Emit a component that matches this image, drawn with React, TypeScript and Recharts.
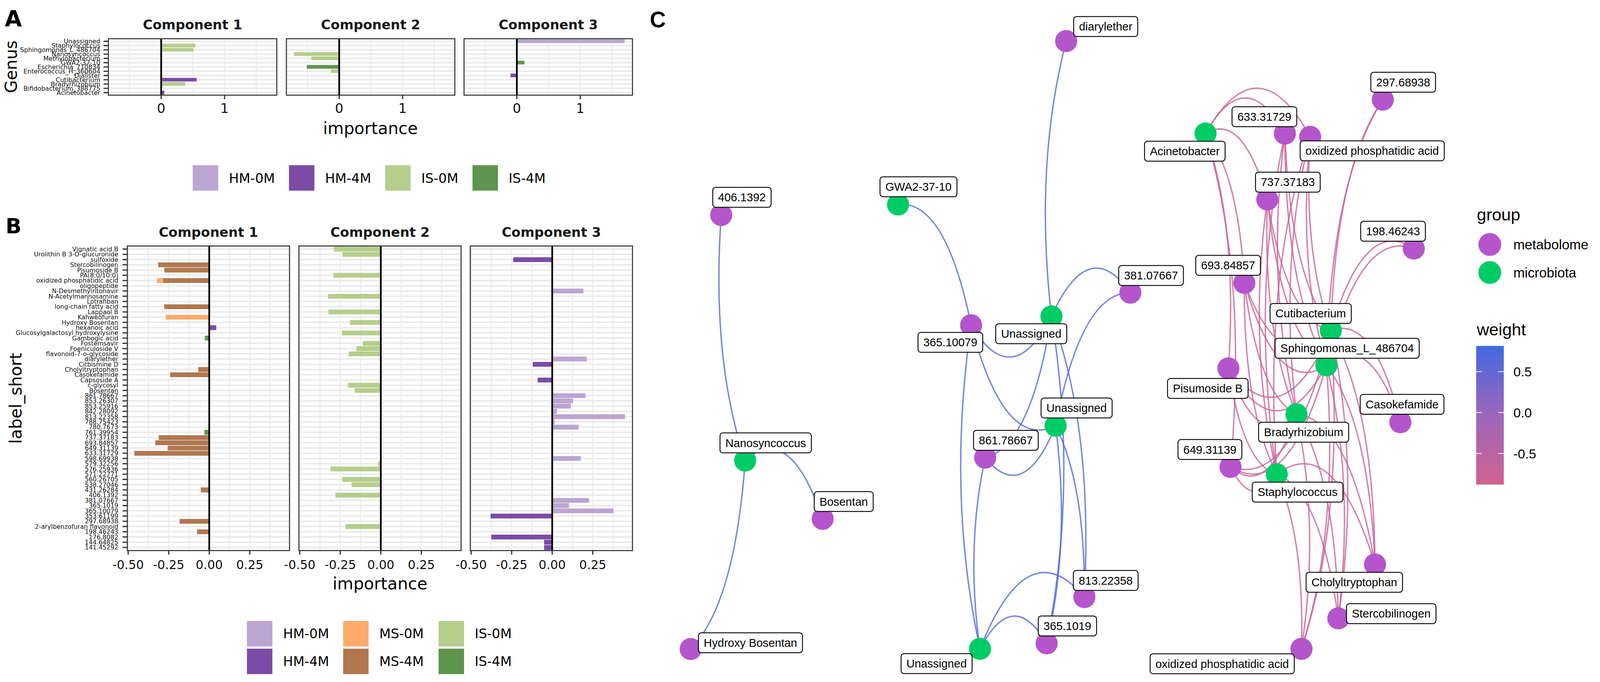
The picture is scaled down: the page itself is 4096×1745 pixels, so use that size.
import React from 'react';
import { BarChart, Bar, XAxis, YAxis, CartesianGrid, ReferenceLine, ScatterChart, Scatter } from 'recharts';

const S = 4096 / 4341;
const FONT = '"DejaVu Sans", Verdana, sans-serif';
const FONT_C = '"Liberation Sans", Arial, Helvetica, sans-serif';

// ---------------- data ----------------
const groups = ['HM-0M', 'HM-4M', 'MS-4M', 'MS-0M', 'IS-0M', 'IS-4M'];
const groupColors: Record<string, string> = {
  'HM-0M': '#BBA5D3', 'HM-4M': '#7B4BA7', 'MS-0M': '#FDAA6B',
  'MS-4M': '#B0784F', 'IS-0M': '#B5CE8B', 'IS-4M': '#5E944B',
};
const legendAOrder = ['HM-0M', 'HM-4M', 'IS-0M', 'IS-4M'];
const legendBOrder = [['HM-0M', 'HM-4M'], ['MS-0M', 'MS-4M'], ['IS-0M', 'IS-4M']];
const componentTitles = ['Component 1', 'Component 2', 'Component 3'];

const genera = [
  'Unassigned', 'Staphylococcus', 'Sphingomonas_L_486704', 'Nanosyncoccus', 'Methylobacterium',
  'GWA2-37-10', 'Escherichia_710834', 'Enterococcus_H_360604', 'Dialister', 'Cutibacterium',
  'Bradyrhizobium', 'Bifidobacterium_388775', 'Acinetobacter',
];
const genusComp1: [string, string, number][] = [
  ['Staphylococcus', 'IS-0M', 0.54], ['Sphingomonas_L_486704', 'IS-0M', 0.51],
  ['Cutibacterium', 'HM-4M', 0.56], ['Bradyrhizobium', 'IS-0M', 0.38], ['Acinetobacter', 'HM-4M', 0.05],
];
const genusComp2: [string, string, number][] = [
  ['Nanosyncoccus', 'IS-0M', -0.71], ['Methylobacterium', 'IS-0M', -0.44],
  ['Escherichia_710834', 'IS-4M', -0.51], ['Enterococcus_H_360604', 'IS-0M', -0.13],
];
const genusComp3: [string, string, number][] = [
  ['Unassigned', 'HM-0M', 1.70], ['GWA2-37-10', 'IS-4M', 0.12], ['Dialister', 'HM-4M', -0.10],
];

const metabolites = [
  'Vignatic acid B', 'Urolithin B 3-O-glucuronide', 'sulfoxide', 'Stercobilinogen', 'Pisumoside B',
  'PA(8:0/10:0)', 'oxidized phosphatidic acid', 'oligopeptide', 'N-Desmethylritonavir', 'N-Acetylmannosamine',
  'Lotrafiban', 'long-chain fatty acid', 'Lappaol B', 'Kahweofuran', 'Hydroxy Bosentan', 'hexanoic acid',
  'Glucosylgalactosyl hydroxylysine', 'Gambogic acid', 'Fostemsavir', 'Foeniculoside V',
  'flavonoid-7-o-glycoside', 'diarylether', 'Citbismine D', 'Cholyltryptophan', 'Casokefamide',
  'Capsoside A', 'c-glycosyl', 'Bosentan', '861.78667', '853.26307', '853.25916', '842.28092',
  '813.22358', '788.75423', '780.7673', '761.39954', '737.37183', '693.84857', '649.31139',
  '633.31729', '598.69938', '579.32256', '576.25936', '571.22771', '560.26705', '538.27046',
  '431.26284', '406.1392', '381.07667', '365.1019', '365.10079', '353.61199', '297.68938',
  '2-arylbenzofuran flavonoid', '198.46243', '176.8082', '144.64825', '141.45292',
];
const metabComp1: [string, string, number][] = [
  ['Stercobilinogen', 'MS-4M', -0.315], ['Pisumoside B', 'MS-4M', -0.277],
  ['oxidized phosphatidic acid', 'MS-4M', -0.284], ['oxidized phosphatidic acid', 'MS-0M', -0.038],
  ['Lotrafiban', 'MS-0M', -0.006], ['long-chain fatty acid', 'MS-4M', -0.278],
  ['Kahweofuran', 'MS-0M', -0.268], ['hexanoic acid', 'HM-4M', 0.043], ['Gambogic acid', 'IS-4M', -0.027],
  ['Cholyltryptophan', 'MS-4M', -0.068], ['Casokefamide', 'MS-4M', -0.241], ['761.39954', 'IS-4M', -0.030],
  ['737.37183', 'MS-4M', -0.311], ['693.84857', 'MS-4M', -0.333], ['649.31139', 'MS-4M', -0.256],
  ['633.31729', 'MS-4M', -0.462], ['431.26284', 'MS-4M', -0.052], ['297.68938', 'MS-4M', -0.183],
  ['198.46243', 'MS-4M', -0.075],
];
const metabComp2: [string, string, number][] = [
  ['Vignatic acid B', 'IS-0M', -0.29], ['Urolithin B 3-O-glucuronide', 'IS-0M', -0.236],
  ['PA(8:0/10:0)', 'IS-0M', -0.293], ['N-Acetylmannosamine', 'IS-0M', -0.325], ['Lappaol B', 'IS-0M', -0.323],
  ['Hydroxy Bosentan', 'IS-0M', -0.19], ['Glucosylgalactosyl hydroxylysine', 'IS-0M', -0.24],
  ['Fostemsavir', 'IS-0M', -0.111], ['Foeniculoside V', 'IS-0M', -0.15],
  ['flavonoid-7-o-glycoside', 'IS-0M', -0.198], ['c-glycosyl', 'IS-0M', -0.203], ['Bosentan', 'IS-0M', -0.161],
  ['579.32256', 'IS-0M', -0.016], ['576.25936', 'IS-0M', -0.31], ['560.26705', 'IS-0M', -0.239],
  ['538.27046', 'IS-0M', -0.18], ['406.1392', 'IS-0M', -0.28], ['2-arylbenzofuran flavonoid', 'IS-0M', -0.218],
];
const metabComp3: [string, string, number][] = [
  ['sulfoxide', 'HM-4M', -0.24], ['N-Desmethylritonavir', 'HM-0M', 0.192], ['diarylether', 'HM-0M', 0.213],
  ['Citbismine D', 'HM-4M', -0.12], ['Capsoside A', 'HM-4M', -0.09], ['861.78667', 'HM-0M', 0.206],
  ['853.26307', 'HM-0M', 0.129], ['853.25916', 'HM-0M', 0.115], ['842.28092', 'HM-0M', 0.029],
  ['813.22358', 'HM-0M', 0.449], ['788.75423', 'HM-0M', 0.015], ['780.7673', 'HM-0M', 0.163],
  ['598.69938', 'HM-0M', 0.177], ['381.07667', 'HM-0M', 0.227], ['365.1019', 'HM-0M', 0.104],
  ['365.10079', 'HM-0M', 0.378], ['353.61199', 'HM-4M', -0.38], ['176.8082', 'HM-4M', -0.376],
  ['144.64825', 'HM-4M', -0.05], ['141.45292', 'HM-4M', -0.05],
];

const genusTicks = [-0.5, 0, 0.5, 1, 1.5];
const genusMajor = [0, 1];
const metabTicks = [-0.5, -0.375, -0.25, -0.125, 0, 0.125, 0.25, 0.375];
const metabMajor = [-0.5, -0.25, 0, 0.25];

// network: id, label, group, x, y, labelX, labelY (layout units)
const networkNodes: [string, string, string, number, number, number, number][] = [
  ['m406', '406.1392', 'metabolome', 0.746, 6.285, 1.014, 6.525],
  ['nano', 'Nanosyncoccus', 'microbiota', 1.056, 2.956, 1.321, 3.195],
  ['bos', 'Bosentan', 'metabolome', 2.057, 2.165, 2.329, 2.400],
  ['hbos', 'Hydroxy Bosentan', 'metabolome', 0.352, 0.400, 1.124, 0.485],
  ['gwa', 'GWA2-37-10', 'microbiota', 3.031, 6.427, 3.295, 6.668],
  ['diaryl', 'diarylether', 'metabolome', 5.203, 8.643, 5.714, 8.840],
  ['m365a', '365.10079', 'metabolome', 3.975, 4.790, 3.707, 4.558],
  ['u1', 'Unassigned', 'microbiota', 5.013, 4.910, 4.752, 4.675],
  ['m381', '381.07667', 'metabolome', 6.032, 5.232, 6.300, 5.465],
  ['u2', 'Unassigned', 'microbiota', 5.067, 3.427, 5.338, 3.668],
  ['m861', '861.78667', 'metabolome', 4.157, 2.995, 4.424, 3.230],
  ['m813', '813.22358', 'metabolome', 5.438, 1.105, 5.714, 1.330],
  ['m365b', '365.1019', 'metabolome', 4.951, 0.477, 5.219, 0.713],
  ['u3', 'Unassigned', 'microbiota', 4.090, 0.403, 3.529, 0.203],
  ['acin', 'Acinetobacter', 'microbiota', 7.004, 7.390, 6.736, 7.150],
  ['m633', '633.31729', 'metabolome', 8.029, 7.388, 7.764, 7.618],
  ['oxT', 'oxidized phosphatidic acid', 'metabolome', 8.355, 7.345, 9.157, 7.155],
  ['m297', '297.68938', 'metabolome', 9.294, 7.850, 9.557, 8.085],
  ['m737', '737.37183', 'metabolome', 7.802, 6.495, 8.067, 6.730],
  ['m198', '198.46243', 'metabolome', 9.694, 5.830, 9.426, 6.065],
  ['m693', '693.84857', 'metabolome', 7.505, 5.365, 7.295, 5.603],
  ['cuti', 'Cutibacterium', 'microbiota', 8.622, 4.720, 8.362, 4.950],
  ['sphi', 'Sphingomonas_L_486704', 'microbiota', 8.565, 4.247, 8.833, 4.478],
  ['pisu', 'Pisumoside B', 'metabolome', 7.299, 4.205, 7.033, 3.933],
  ['caso', 'Casokefamide', 'metabolome', 9.521, 3.475, 9.543, 3.718],
  ['brad', 'Bradyrhizobium', 'microbiota', 8.179, 3.583, 8.271, 3.340],
  ['m649', '649.31139', 'metabolome', 7.326, 2.870, 7.060, 3.105],
  ['stap', 'Staphylococcus', 'microbiota', 7.924, 2.770, 8.193, 2.528],
  ['chol', 'Cholyltryptophan', 'metabolome', 9.193, 1.547, 8.926, 1.305],
  ['ster', 'Stercobilinogen', 'metabolome', 8.719, 0.816, 9.403, 0.880],
  ['oxB', 'oxidized phosphatidic acid', 'metabolome', 8.243, 0.402, 7.219, 0.200],
];

// edges: from (microbe), to (metabolite), weight
const positiveEdges: [string, string, number][] = [
  ['nano', 'm406', 0.62], ['nano', 'bos', 0.66], ['nano', 'hbos', 0.64], ['gwa', 'm365a', 0.65],
  ['u1', 'diaryl', 0.63], ['u1', 'm381', 0.66], ['u2', 'm381', 0.62], ['u1', 'm365a', 0.64],
  ['u2', 'm365a', 0.66], ['u3', 'm365a', 0.63], ['u1', 'm861', 0.65], ['u2', 'm861', 0.64],
  ['u3', 'm861', 0.66], ['u3', 'm813', 0.65], ['u3', 'm365b', 0.64], ['u2', 'm365b', 0.70],
  ['u1', 'm365b', 0.66], ['u1', 'm813', 0.63], ['u2', 'm813', 0.65],
];
const negativeEdges: [string, string, number][] = [
  ['acin', 'm633', -0.72], ['acin', 'oxT', -0.74], ['acin', 'm737', -0.70], ['acin', 'm693', -0.71],
  ['acin', 'pisu', -0.73], ['acin', 'm649', -0.70],
  ['cuti', 'm633', -0.72], ['sphi', 'm633', -0.74], ['brad', 'm633', -0.70], ['stap', 'm633', -0.73],
  ['cuti', 'oxT', -0.71], ['sphi', 'oxT', -0.73], ['brad', 'oxT', -0.72], ['stap', 'oxT', -0.70],
  ['cuti', 'm737', -0.72], ['sphi', 'm737', -0.71], ['brad', 'm737', -0.74], ['stap', 'm737', -0.72],
  ['cuti', 'm693', -0.73], ['sphi', 'm693', -0.72], ['brad', 'm693', -0.70], ['stap', 'm693', -0.74],
  ['cuti', 'pisu', -0.72], ['sphi', 'pisu', -0.70], ['brad', 'pisu', -0.73], ['stap', 'pisu', -0.71],
  ['cuti', 'm649', -0.74], ['sphi', 'm649', -0.72], ['brad', 'm649', -0.71], ['stap', 'm649', -0.73],
  ['cuti', 'chol', -0.70], ['sphi', 'chol', -0.72], ['brad', 'chol', -0.73], ['stap', 'chol', -0.71],
  ['cuti', 'ster', -0.72], ['sphi', 'ster', -0.74], ['brad', 'ster', -0.70], ['stap', 'ster', -0.72],
  ['cuti', 'oxB', -0.71], ['sphi', 'oxB', -0.73], ['brad', 'oxB', -0.72], ['stap', 'oxB', -0.74],
  ['cuti', 'm297', -0.73], ['sphi', 'm297', -0.71], ['cuti', 'm198', -0.72], ['sphi', 'm198', -0.70],
  ['cuti', 'caso', -0.71], ['sphi', 'caso', -0.73],
];

const nodeColors: Record<string, string> = { metabolome: '#B455CC', microbiota: '#00CC66' };
const weightTicks = [0.5, 0.0, -0.5];
const weightRange = [-0.88, 0.814];

// ---------------- helpers ----------------
function buildRows(labels: string[], entries: [string, string, number][]) {
  return labels.map((l) => {
    const row: any = { label: l };
    entries.forEach(([name, g, v]) => {
      if (name === l) row[g] = (row[g] ?? 0) + v;
    });
    return row;
  });
}

const HIGH = [65, 105, 225];
const MID = [154, 102, 189];
const LOW = [209, 98, 142];
function weightColor(w: number) {
  let c: number[];
  if (w >= 0) {
    const t = Math.min(1, w / weightRange[1]);
    c = MID.map((m, i) => m + (HIGH[i] - m) * t);
  } else {
    const t = Math.min(1, -w / -weightRange[0]);
    c = MID.map((m, i) => m + (LOW[i] - m) * t);
  }
  return `rgb(${c.map((v) => Math.round(v)).join(',')})`;
}

let measureCtx: CanvasRenderingContext2D | null = null;
function textWidth(t: string, font: string) {
  if (!measureCtx && typeof document !== 'undefined') {
    const c = document.createElement('canvas');
    measureCtx = c.getContext('2d');
  }
  if (!measureCtx) return t.length * 17;
  measureCtx.font = font;
  return measureCtx.measureText(t).width;
}

// arc in an aspect-corrected space (layout was stretched vertically)
const ASPECT = 3.16;
const BEND = 0.142;
function arcPath(p0: { x: number; y: number }, p1: { x: number; y: number }) {
  const dx = p1.x - p0.x;
  const dyIso = (p1.y - p0.y) / ASPECT;
  const mx = (p0.x + p1.x) / 2;
  const my = (p0.y + p1.y) / 2;
  const cx = mx + 2 * BEND * dyIso;
  const cy = my - 2 * BEND * dx * ASPECT;
  return `M${p0.x},${p0.y} Q${cx},${cy} ${p1.x},${p1.y}`;
}

// ---------------- facet bar chart ----------------
type FacetCfg = {
  left: number; top: number; w: number; h: number; yAxisW: number; labelGap: number;
  domain: [number, number]; ticks: number[]; majors: number[]; fmt: (v: number) => string;
  tickFont: number; tickBase: number; labelFont: number;
};

function Facet({ cfg, rows, showY }: { cfg: FacetCfg; rows: any[]; showY: boolean }) {
  const { left, top, w, h, yAxisW, labelGap, domain, ticks, majors, fmt, tickFont, tickBase, labelFont } = cfg;
  const yW = showY ? yAxisW : 0;
  const M = 70;
  const T = 24;
  const N = rows.length;
  const band = h / (N + 0.2);
  const pad = band * 0.1;
  const xH = 75;
  const hPoints = rows.map((_, i) => T + pad + (i + 0.5) * band);

  const XTick = (props: any) => {
    const { x, payload } = props;
    const v = payload.value;
    if (!majors.some((m) => Math.abs(m - v) < 1e-9)) return <g />;
    return (
      <g>
        <line x1={x} x2={x} y1={T + h} y2={T + h + 11} stroke="#333" strokeWidth={3.3} />
        <text x={x} y={T + h + tickBase} textAnchor="middle" fontSize={tickFont} fontFamily={FONT} fill="#111">
          {fmt(v)}
        </text>
      </g>
    );
  };
  const YTick = (props: any) => {
    const { payload } = props;
    const y = typeof props.index === 'number' ? T + pad + (props.index + 0.5) * band : props.y;
    const px = M + yW;
    return (
      <g>
        <line x1={px - 13} x2={px - 1} y1={y} y2={y} stroke="#333" strokeWidth={3.3} />
        <text x={px - labelGap} y={y} dy="0.36em" textAnchor="end" fontSize={labelFont} fontFamily={FONT} fill="#111">
          {payload.value}
        </text>
      </g>
    );
  };

  return (
    <div style={{ position: 'absolute', left: left - yW - M, top: top - T }}>
      <BarChart
        width={M + yW + w + M}
        height={T + h + xH}
        data={rows}
        layout="vertical"
        margin={{ top: T, right: M, bottom: 0, left: M }}
        stackOffset="sign"
        barCategoryGap="5%"
      >
        <CartesianGrid horizontal={false} stroke="#EBEBEB" strokeWidth={2.6} />
        <CartesianGrid vertical={false} stroke="#EBEBEB" strokeWidth={4.5} horizontalPoints={hPoints} />
        <XAxis
          type="number" domain={domain} ticks={ticks} allowDataOverflow interval={0}
          tick={XTick} tickLine={false} axisLine={false} height={xH}
        />
        <YAxis
          type="category" dataKey="label" width={yW} hide={!showY} interval={0}
          tick={YTick} tickLine={false} axisLine={false} padding={{ top: pad, bottom: pad }}
        />
        {groups.map((g) => (
          <Bar key={g} dataKey={g} stackId="s" fill={groupColors[g]} isAnimationActive={false} />
        ))}
        <ReferenceLine x={0} stroke="#000" strokeWidth={4.6} />
      </BarChart>
    </div>
  );
}

// ---------------- network ----------------
function Network() {
  const nodeMap: Record<string, any> = {};
  const nodes = networkNodes.map(([id, name, group, x, y, lx, ly]) => {
    const n = { id, name, group, x, y, lx, ly };
    nodeMap[id] = n;
    return n;
  });
  const labels = nodes.map((n) => ({ x: n.lx, y: n.ly, name: n.name }));
  const edges = [...positiveEdges, ...negativeEdges].map(([a, b, w]) => ({
    data: [{ x: nodeMap[a].x, y: nodeMap[a].y }, { x: nodeMap[b].x, y: nodeMap[b].y }],
    color: weightColor(w),
  }));
  const Empty = () => <g />;
  const edgeLine = (color: string) => (props: any) => {
    const pts = props.points;
    if (!pts || pts.length < 2) return <g />;
    return <path d={arcPath(pts[0], pts[1])} fill="none" stroke={color} strokeWidth={3.8} strokeOpacity={0.8} />;
  };
  const NodeShape = (props: any) => (
    <circle cx={props.cx} cy={props.cy} r={30} fill={nodeColors[props.payload.group]} />
  );
  const LabelShape = (props: any) => {
    const { cx, cy, payload } = props;
    const tw = textWidth(payload.name, `31px ${FONT_C}`);
    const bw = tw + 29;
    const bh = 54;
    return (
      <g>
        <rect x={cx - bw / 2} y={cy - bh / 2} width={bw} height={bh} rx={8} ry={8} fill="#fff" stroke="#000" strokeWidth={2.4} />
        <text x={cx} y={cy + 11} textAnchor="middle" fontSize={31} fontFamily={FONT_C} fill="#000">
          {payload.name}
        </text>
      </g>
    );
  };
  return (
    <div style={{ position: 'absolute', left: 1695, top: 20 }}>
      <ScatterChart width={2310} height={1860} margin={{ top: 0, right: 0, bottom: 0, left: 0 }}>
        <XAxis type="number" dataKey="x" domain={[-0.5, 10.5]} hide allowDataOverflow />
        <YAxis type="number" dataKey="y" domain={[-0.2, 9.1]} hide allowDataOverflow />
        {edges.map((e, i) => (
          <Scatter
            key={'e' + i} data={e.data} line={edgeLine(e.color)} shape={Empty}
            isAnimationActive={false} legendType="none"
          />
        ))}
        <Scatter data={nodes} shape={NodeShape} isAnimationActive={false} legendType="none" />
        <Scatter data={labels} shape={LabelShape} isAnimationActive={false} legendType="none" />
      </ScatterChart>
    </div>
  );
}

// ---------------- overlay (titles, legends, frames) ----------------
const facetA = { lefts: [294, 777, 1259], top: 105, w: 457, h: 153 };
const facetB = { lefts: [345.5, 811, 1276], top: 667, w: 440, h: 826 };

function Overlay() {
  const gradTop = 938, gradBot = 1314;
  const wy = (v: number) => gradTop + ((weightRange[1] - v) / (weightRange[1] - weightRange[0])) * (gradBot - gradTop);
  const midOffset = (weightRange[1] - 0) / (weightRange[1] - weightRange[0]);
  return (
    <svg width={4341} height={1849} style={{ position: 'absolute', left: 0, top: 0, pointerEvents: 'none' }}>
      <defs>
        <linearGradient id="wgrad" x1="0" y1="0" x2="0" y2="1">
          <stop offset="0" stopColor={`rgb(${HIGH.join(',')})`} />
          <stop offset={midOffset} stopColor={`rgb(${MID.join(',')})`} />
          <stop offset="1" stopColor={`rgb(${LOW.join(',')})`} />
        </linearGradient>
      </defs>
      {/* panel letters */}
      <text x={13} y={72} fontSize={60} fontWeight="bold" fontFamily={FONT} fill="#000">A</text>
      <text x={15} y={633} fontSize={57} fontWeight="bold" fontFamily={FONT} fill="#000">B</text>
      <text x={1763} y={74} fontSize={60} fontWeight="bold" fontFamily={FONT_C} fill="#000">C</text>

      {/* panel frames and strip titles */}
      {facetA.lefts.map((l, i) => (
        <g key={'fa' + i}>
          <rect x={l} y={facetA.top} width={facetA.w} height={facetA.h} fill="none" stroke="#333" strokeWidth={2.8} />
          <text x={l + facetA.w / 2} y={79.5} textAnchor="middle" fontSize={36} fontWeight="bold" fontFamily={FONT} fill="#1A1A1A">
            {componentTitles[i]}
          </text>
        </g>
      ))}
      {facetB.lefts.map((l, i) => (
        <g key={'fb' + i}>
          <rect x={l} y={facetB.top} width={facetB.w} height={facetB.h} fill="none" stroke="#333" strokeWidth={2.8} />
          <text x={l + facetB.w / 2} y={642} textAnchor="middle" fontSize={36} fontWeight="bold" fontFamily={FONT} fill="#1A1A1A">
            {componentTitles[i]}
          </text>
        </g>
      ))}

      {/* axis titles */}
      <text x={1005} y={363} textAnchor="middle" fontSize={45} fontFamily={FONT} fill="#000">importance</text>
      <text x={1031} y={1598} textAnchor="middle" fontSize={45} fontFamily={FONT} fill="#000">importance</text>
      <text x={46} y={181} transform="rotate(-90 46 181)" textAnchor="middle" fontSize={45} fontFamily={FONT} fill="#000">Genus</text>
      <text x={58} y={1080} transform="rotate(-90 58 1080)" textAnchor="middle" fontSize={45} fontFamily={FONT} fill="#000">label_short</text>

      {/* legend A */}
      {legendAOrder.map((g, i) => {
        const x = [523, 784, 1045, 1282][i];
        return (
          <g key={'la' + g}>
            <rect x={x} y={448} width={69} height={69} fill={groupColors[g]} />
            <text x={x + 98} y={496} fontSize={36} fontFamily={FONT} fill="#000">{g}</text>
          </g>
        );
      })}
      {/* legend B */}
      {legendBOrder.map((col, ci) =>
        col.map((g, ri) => {
          const x = [670, 931, 1190][ci];
          const y = [1684, 1759][ri];
          return (
            <g key={'lb' + g}>
              <rect x={x} y={y} width={69} height={69} fill={groupColors[g]} />
              <text x={x + 98} y={y + 47} fontSize={36} fontFamily={FONT} fill="#000">{g}</text>
            </g>
          );
        })
      )}

      {/* legend C */}
      <text x={4007} y={598} fontSize={46} fontFamily={FONT_C} fill="#000">group</text>
      <circle cx={4042} cy={663} r={31} fill={nodeColors.metabolome} />
      <text x={4106} y={676} fontSize={37} fontFamily={FONT_C} fill="#000">metabolome</text>
      <circle cx={4042} cy={739} r={31} fill={nodeColors.microbiota} />
      <text x={4106} y={752} fontSize={37} fontFamily={FONT_C} fill="#000">microbiota</text>
      <text x={4007} y={909} fontSize={46} fontFamily={FONT_C} fill="#000">weight</text>
      <rect x={4005} y={gradTop} width={75} height={gradBot - gradTop} fill="url(#wgrad)" />
      {weightTicks.map((t) => (
        <g key={'wt' + t}>
          <line x1={4005} x2={4020} y1={wy(t)} y2={wy(t)} stroke="#fff" strokeWidth={2} />
          <line x1={4065} x2={4080} y1={wy(t)} y2={wy(t)} stroke="#fff" strokeWidth={2} />
          <text x={4106} y={wy(t) + 13} fontSize={36} fontFamily={FONT_C} fill="#000">{t.toFixed(1)}</text>
        </g>
      ))}
    </svg>
  );
}

export default function App() {
  const aRows = [genusComp1, genusComp2, genusComp3].map((c) => buildRows(genera, c));
  const bRows = [metabComp1, metabComp2, metabComp3].map((c) => buildRows(metabolites, c));
  const aCfg = (i: number): FacetCfg => ({
    left: facetA.lefts[i], top: facetA.top, w: facetA.w, h: facetA.h, yAxisW: 294, labelGap: 22,
    domain: [-0.833, 1.824], ticks: genusTicks, majors: genusMajor, fmt: (v) => String(v),
    tickFont: 36, tickBase: 48.5, labelFont: 17,
  });
  const bCfg = (i: number): FacetCfg => ({
    left: facetB.lefts[i], top: facetB.top, w: facetB.w, h: facetB.h, yAxisW: 345.5, labelGap: 24.5,
    domain: [-0.505, 0.495], ticks: metabTicks, majors: metabMajor, fmt: (v) => v.toFixed(2),
    tickFont: 33, tickBase: 50, labelFont: 16.8,
  });
  return (
    <div style={{ position: 'absolute', left: 0, top: 0, width: 4096, height: 1745, overflow: 'hidden', background: '#fff' }}>
      <div style={{ position: 'absolute', left: 0, top: 0, width: 4341, height: 1849, transform: `scale(${S})`, transformOrigin: '0 0' }}>
        {aRows.map((rows, i) => (
          <Facet key={'a' + i} cfg={aCfg(i)} rows={rows} showY={i === 0} />
        ))}
        {bRows.map((rows, i) => (
          <Facet key={'b' + i} cfg={bCfg(i)} rows={rows} showY={i === 0} />
        ))}
        <Network />
        <Overlay />
      </div>
    </div>
  );
}
